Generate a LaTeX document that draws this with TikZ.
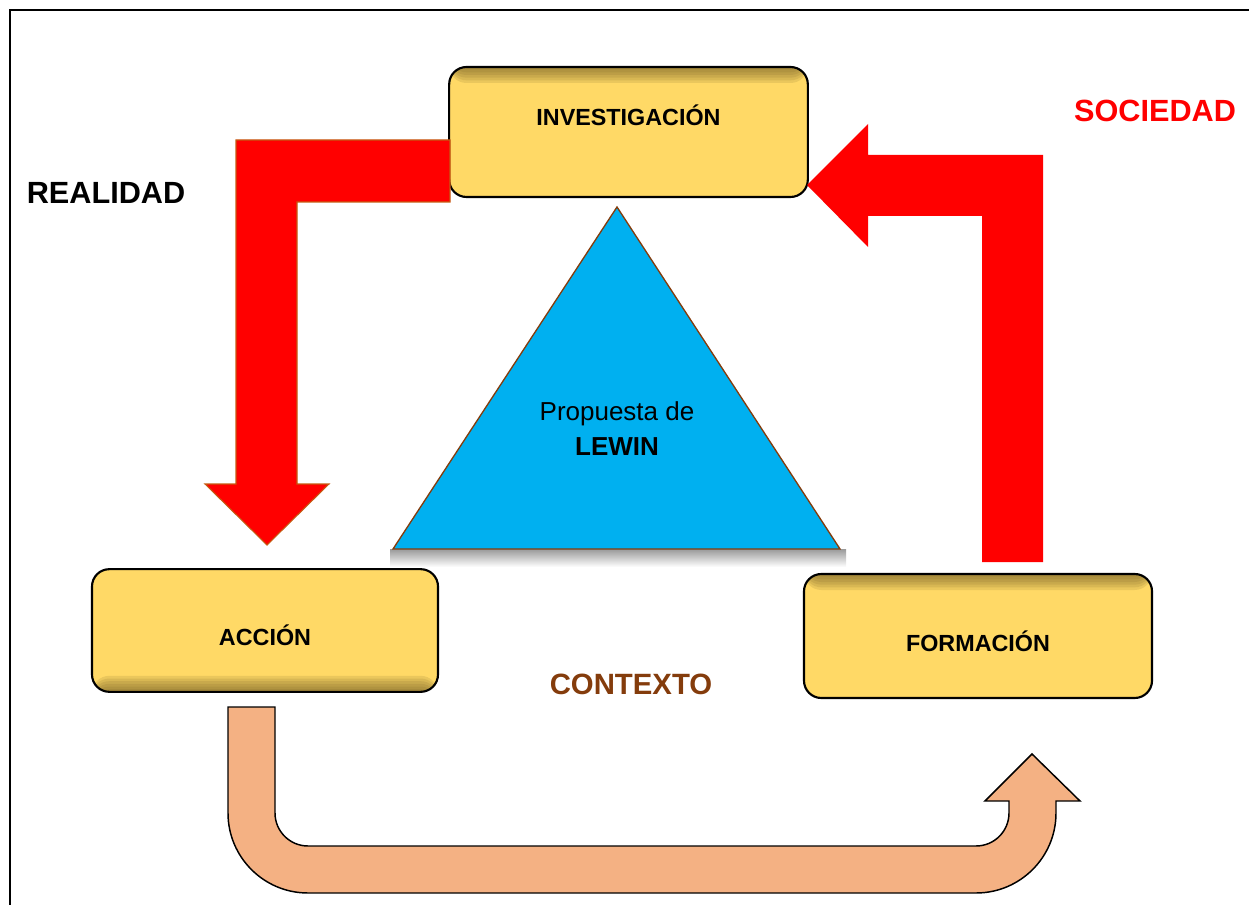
\documentclass[tikz,border=0pt]{standalone}
\usepackage{fontspec}
\setmainfont{Liberation Sans}
\usepackage{tikz}
\usetikzlibrary{calc,positioning}
\definecolor{cajaamarilla}{HTML}{FFD966}
\definecolor{sombracaja}{HTML}{6E5A22}
\definecolor{rojoflecha}{HTML}{FF0000}
\definecolor{bordeflecha}{HTML}{C55A11}
\definecolor{naranjaflecha}{HTML}{F4B183}
\definecolor{azultriangulo}{HTML}{00B0F0}
\definecolor{marron}{HTML}{843C0C}
\tikzset{
  caja/.style={draw=black, line width=1.6pt, fill=cajaamarilla, rounded corners=13pt,
    font=\fontsize{17.5}{21}\selectfont\bfseries, inner sep=0pt},
  sombraarriba/.style={path picture={\foreach \i in {1,...,6}
    \fill[sombracaja, opacity=0.14] (path picture bounding box.north west) rectangle ([yshift=-\i*2pt]path picture bounding box.north east);}},
  sombraabajo/.style={path picture={\foreach \i in {1,...,6}
    \fill[sombracaja, opacity=0.14] (path picture bounding box.south west) rectangle ([yshift=\i*2pt]path picture bounding box.south east);}},
  titulo/.style={font=\fontsize{23}{27}\selectfont\bfseries}
}
\begin{document}
\begin{tikzpicture}[x=0.75pt,y=-0.75pt]
\useasboundingbox (0,0) rectangle (1249,905);
\draw[line width=1.5pt] (10,905) -- (10,10) -- (1249,10);
% cajas
\node[caja, sombraarriba, minimum width=269pt, minimum height=97.5pt, text height=12.75pt, text depth=22.5pt] (inv) at (628.5,132) {INVESTIGACIÓN};
\node[caja, sombraabajo, minimum width=259.5pt, minimum height=92pt, text height=22.5pt, text depth=0pt] (acc) at (265,630.5) {ACCIÓN};
\node[caja, sombraarriba, minimum width=261pt, minimum height=93pt, text height=23pt, text depth=0pt] (for) at (978,636) {FORMACIÓN};
% flechas rojas
\draw[fill=rojoflecha, draw=bordeflecha, line width=0.8pt] (450,140) -- ++(-214,0) -- ++(0,344) -- ++(-31,0) -- (267,545) -- (329,484) -- ++(-32,0) -- ++(0,-282) -- ++(153,0) -- cycle;
\fill[rojoflecha] (982,562) -- ++(0,-346) -- ++(-114,0) -- ++(0,31) -- (807,185) -- (868,124) -- ++(0,31) -- ++(175,0) -- ++(0,407) -- cycle;
% flecha naranja
\draw[fill=naranjaflecha, line width=1.1pt] (228,707) -- (228,813) arc(180:90:80) -- (976,893) arc(90:0:80) -- (1056,801) -- (1080,801) -- (1032,754) -- (985,801) -- (1009,801) -- (1009,813) arc(0:90:33) -- (308,846) arc(90:180:33) -- (275,707) -- cycle;
% triangulo
\shade[top color=black!40, bottom color=white] (390,549) rectangle (846,567);
\draw[fill=azultriangulo, draw=marron, line width=1pt] (617,207) coordinate(T) -- (840,549) coordinate(R) -- (393,549) coordinate(L) -- cycle;
\node[align=center, font=\fontsize{19.5}{26.25}\selectfont] (lewin) at (617,429) {Propuesta de\\\textbf{LEWIN}};
% textos
\node[titulo] (realidad) at (106,193) {REALIDAD};
\node[titulo, text=rojoflecha] (sociedad) at (1155,111) {SOCIEDAD};
\node[titulo, text=marron, font=\fontsize{22}{26}\selectfont\bfseries] (contexto) at (631,684) {CONTEXTO};
\end{tikzpicture}
\end{document}
